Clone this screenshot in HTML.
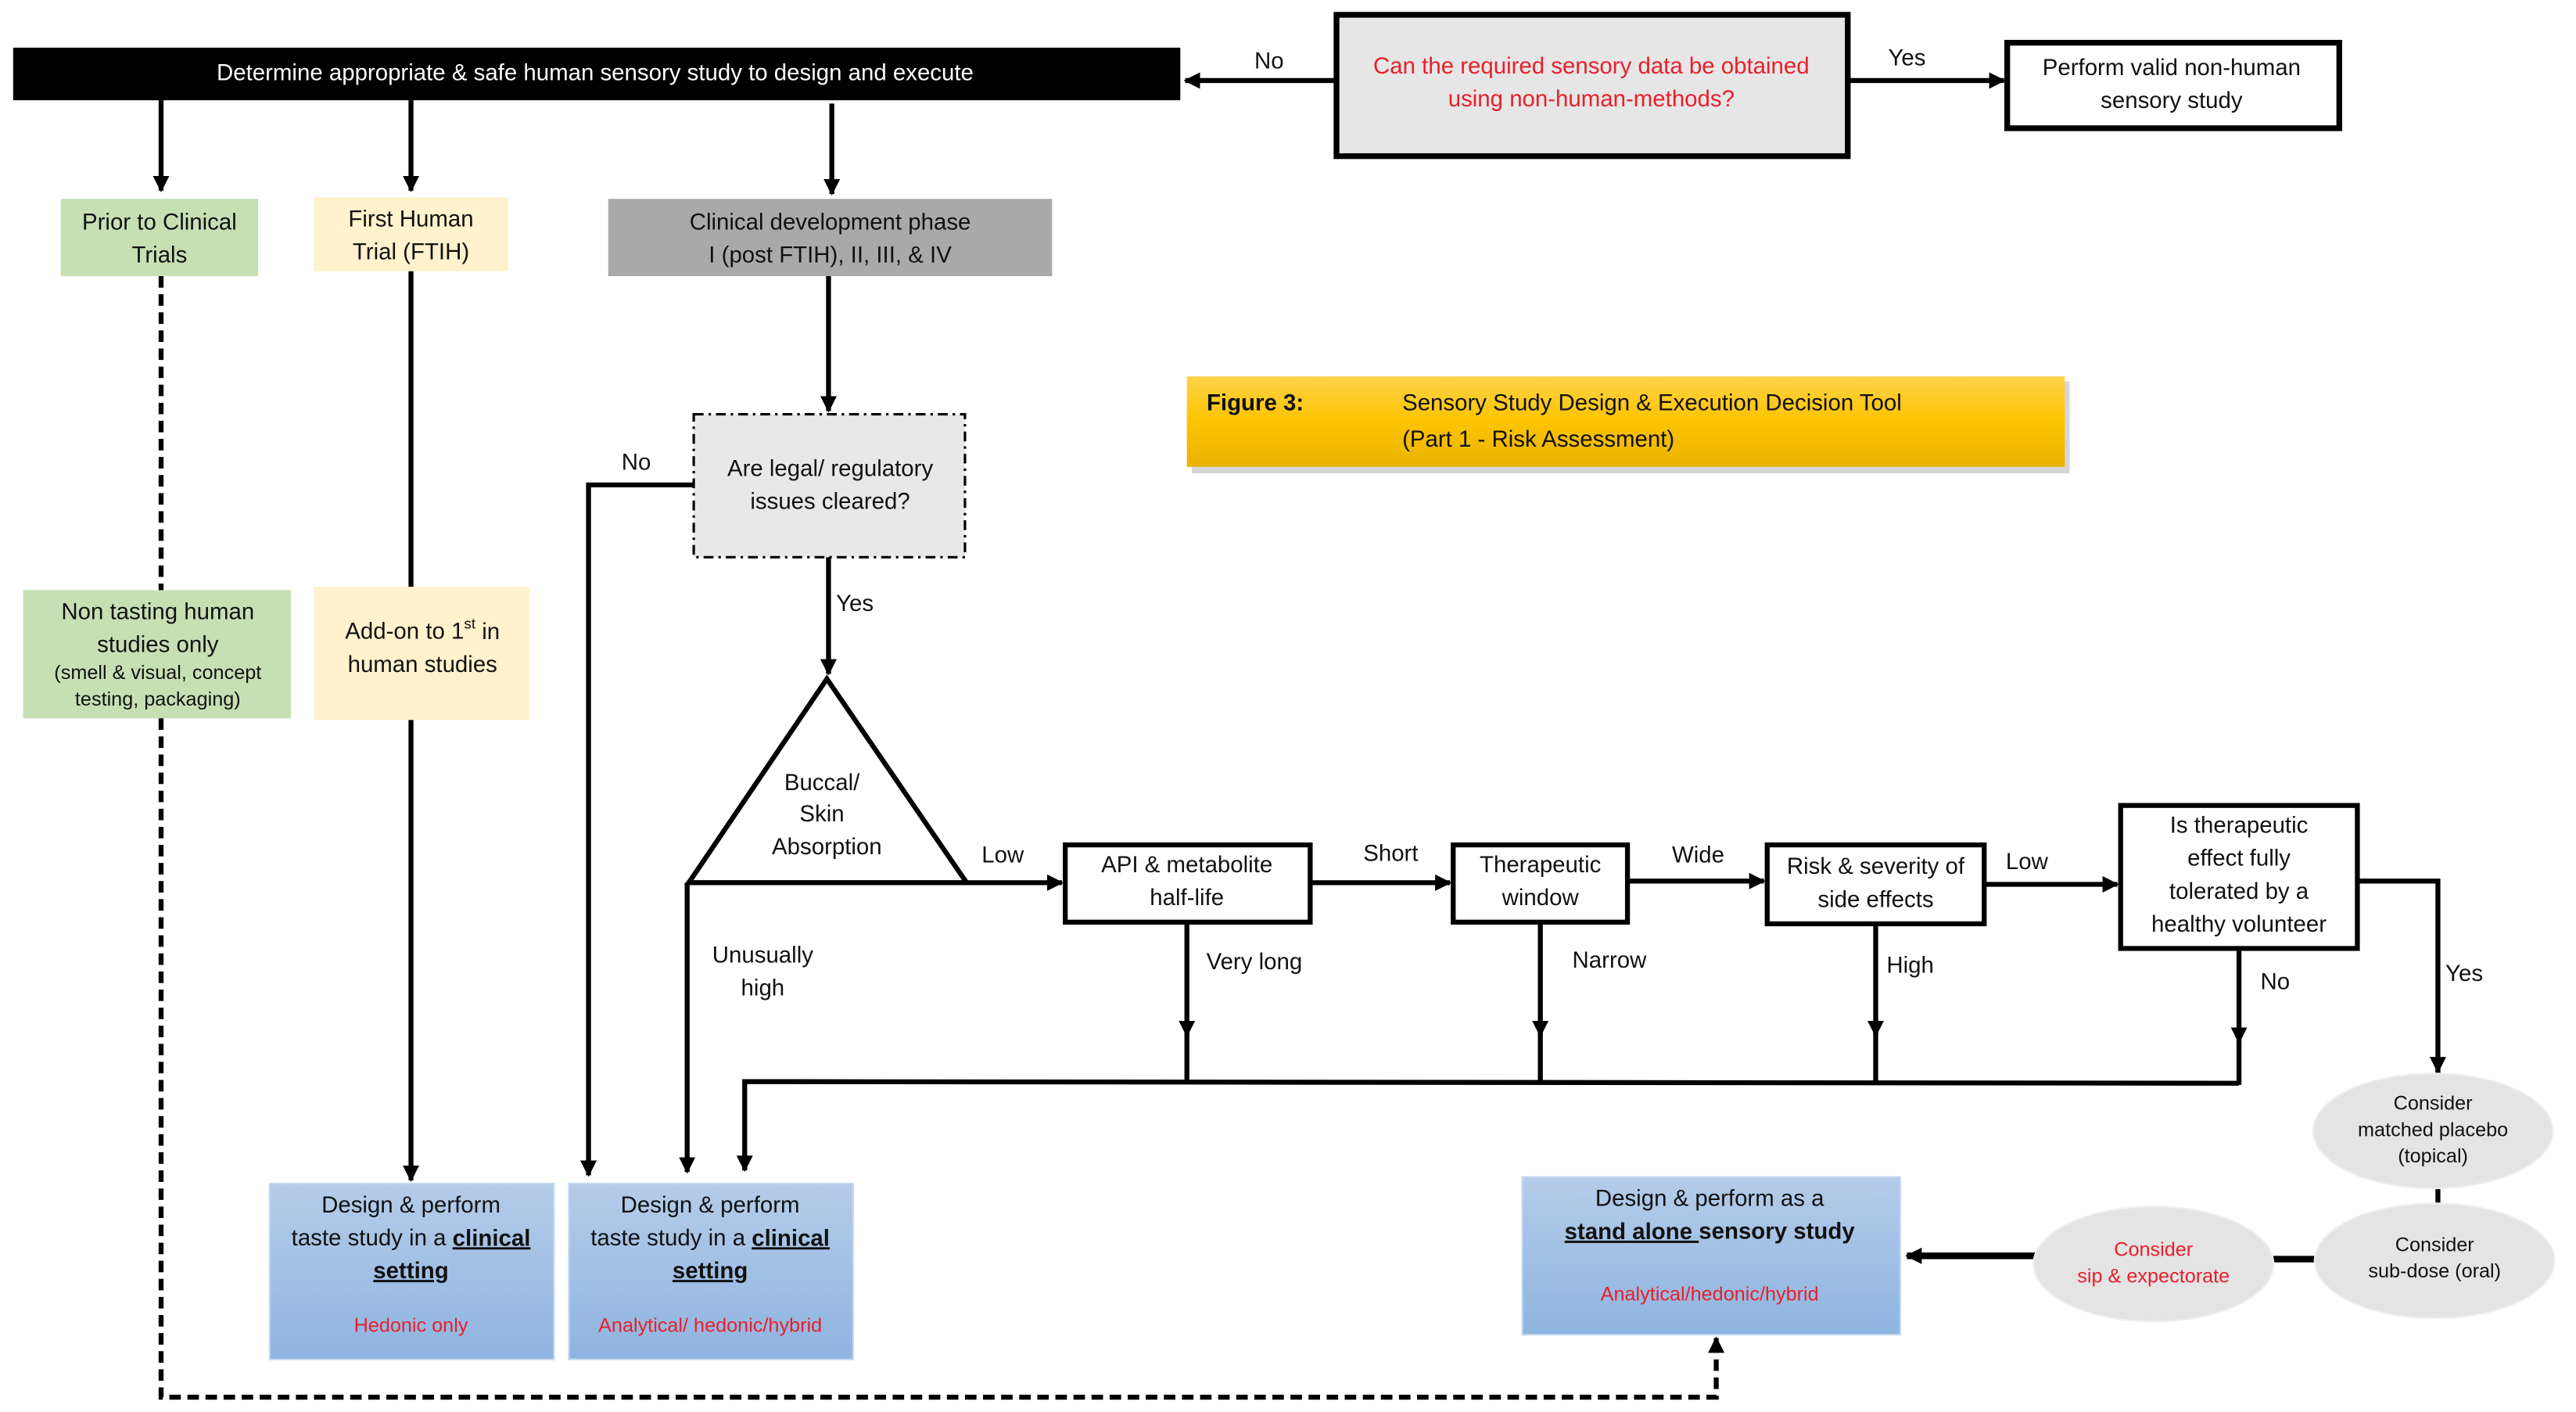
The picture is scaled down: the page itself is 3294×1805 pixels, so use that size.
<!DOCTYPE html>
<html><head><meta charset="utf-8"><style>
html,body{margin:0;padding:0;background:#fff}
svg{display:block}
text{font-family:"Liberation Sans",sans-serif;font-size:14px;fill:#111;text-anchor:middle;dominant-baseline:middle}
.s{font-size:12px}
.r{fill:#e8202a}
</style></head><body>
<svg width="3294" height="1805" viewBox="0 0 1567 859" preserveAspectRatio="none" xmlns="http://www.w3.org/2000/svg">
<defs>
<marker id="a" markerWidth="10" markerHeight="10" refX="9" refY="5" orient="auto" markerUnits="userSpaceOnUse"><path d="M0,0 L10,5 L0,10 z" fill="#000"/></marker>
<linearGradient id="blue" x1="0" y1="0" x2="0" y2="1"><stop offset="0" stop-color="#b4cce9"/><stop offset="1" stop-color="#8fb4e0"/></linearGradient>
<linearGradient id="gold" x1="0" y1="0" x2="0" y2="1"><stop offset="0" stop-color="#ffd24a"/><stop offset="0.5" stop-color="#fcc400"/><stop offset="1" stop-color="#e9b300"/></linearGradient>
</defs>
<g stroke="#000" stroke-width="3" fill="none">
<rect x="8" y="29" width="710" height="32" fill="#000" stroke="none"/>
<line x1="812" y1="49" x2="721" y2="49" marker-end="url(#a)"/>
<rect x="813" y="9" width="311" height="86" fill="#e6e6e6" stroke-width="3.5"/>
<line x1="1125" y1="49" x2="1219" y2="49" marker-end="url(#a)"/>
<rect x="1221" y="26" width="202" height="52" fill="#fff" stroke-width="3.5"/>
<line x1="98" y1="61" x2="98" y2="116" marker-end="url(#a)"/>
<line x1="250" y1="61" x2="250" y2="116" marker-end="url(#a)"/>
<line x1="506" y1="63" x2="506" y2="118" marker-end="url(#a)"/>
<rect x="37" y="121" width="120" height="47" fill="#c6e0b4" stroke="none"/>
<rect x="191" y="120" width="118" height="45" fill="#fff2cc" stroke="none"/>
<rect x="370" y="121" width="270" height="47" fill="#a9a9a9" stroke="none"/>
<line x1="504" y1="168" x2="504" y2="250" marker-end="url(#a)"/>
<rect x="422" y="252" width="165" height="87" fill="#e8e8e8" stroke-width="1.5" stroke-dasharray="6,3,1.5,3"/>
<polyline points="422,295 358,295 358,715" marker-end="url(#a)"/>
<line x1="504" y1="339" x2="504" y2="410" marker-end="url(#a)"/>
<polygon points="503,413 419,537 588,537" fill="#fff"/>
<line x1="418" y1="537" x2="646" y2="537" marker-end="url(#a)"/>
<line x1="418" y1="537" x2="418" y2="713" marker-end="url(#a)"/>
<rect x="648" y="514" width="149" height="47" fill="#fff"/>
<line x1="797" y1="537" x2="882" y2="537" marker-end="url(#a)"/>
<rect x="884" y="514" width="106" height="47" fill="#fff"/>
<line x1="990" y1="536" x2="1073" y2="536" marker-end="url(#a)"/>
<rect x="1075" y="514" width="132" height="48" fill="#fff"/>
<line x1="1207" y1="538" x2="1288" y2="538" marker-end="url(#a)"/>
<rect x="1290" y="490" width="144" height="87" fill="#fff"/>
<polyline points="1434,536 1483,536 1483,652" marker-end="url(#a)"/>
<line x1="1483" y1="650" x2="1483" y2="672"/>
<line x1="722" y1="561" x2="722" y2="630" marker-end="url(#a)"/><line x1="722" y1="628" x2="722" y2="658"/>
<line x1="937" y1="561" x2="937" y2="630" marker-end="url(#a)"/><line x1="937" y1="628" x2="937" y2="658"/>
<line x1="1141" y1="562" x2="1141" y2="630" marker-end="url(#a)"/><line x1="1141" y1="628" x2="1141" y2="658"/>
<line x1="1362" y1="577" x2="1362" y2="634" marker-end="url(#a)"/><line x1="1362" y1="632" x2="1362" y2="660"/>
<polyline points="1362,659 453,658 453,712" marker-end="url(#a)"/>
<rect x="14" y="359" width="163" height="78" fill="#c6e0b4" stroke="none"/>
<rect x="191" y="357" width="131" height="81" fill="#fff2cc" stroke="none"/>
<line x1="250" y1="165" x2="250" y2="357"/>
<line x1="250" y1="438" x2="250" y2="718" marker-end="url(#a)"/>
<line x1="98" y1="168" x2="98" y2="359" stroke-dasharray="7,4"/>
<polyline points="98,437 98,850 1044,850 1044,815" stroke-dasharray="7,4"/>
<line x1="1044" y1="822" x2="1044" y2="814" marker-end="url(#a)"/>
<rect x="164" y="720" width="173" height="107" fill="url(#blue)" stroke="#c5d9f1" stroke-width="1"/>
<rect x="346" y="720" width="173" height="107" fill="url(#blue)" stroke="#c5d9f1" stroke-width="1"/>
<rect x="926" y="716" width="230" height="96" fill="url(#blue)" stroke="#c5d9f1" stroke-width="1"/>
<line x1="1483" y1="722" x2="1483" y2="734"/>
<line x1="1382" y1="766" x2="1409" y2="766" stroke-width="4"/>
<line x1="1238" y1="764" x2="1160" y2="764" stroke-width="4" marker-end="url(#a)"/>
<ellipse cx="1480" cy="688" rx="73" ry="35" fill="#e4e4e4" stroke="#f0f0f0" stroke-width="1"/>
<ellipse cx="1481" cy="767" rx="73" ry="35" fill="#e4e4e4" stroke="#f0f0f0" stroke-width="1"/>
<ellipse cx="1310" cy="769" rx="73" ry="35" fill="#e4e4e4" stroke="#f0f0f0" stroke-width="1"/>
<rect x="725" y="232" width="534" height="56" fill="#bbb" stroke="none" opacity="0.6"/>
<rect x="722" y="229" width="534" height="55" fill="url(#gold)" stroke="none"/>
</g>
<text x="362" y="45" style="fill:#fff">Determine appropriate &amp; safe human sensory study to design and execute</text>
<text x="772" y="38">No</text>
<text x="1160" y="36">Yes</text>
<text x="968" y="41" class="r">Can the required sensory data be obtained</text>
<text x="968" y="61" class="r">using non-human-methods?</text>
<text x="1321" y="42">Perform valid non-human</text>
<text x="1321" y="62">sensory study</text>
<text x="97" y="136">Prior to Clinical</text><text x="97" y="156">Trials</text>
<text x="250" y="134">First Human</text><text x="250" y="154">Trial (FTIH)</text>
<text x="505" y="136">Clinical development phase</text><text x="505" y="156">I (post FTIH), II, III, &amp; IV</text>
<text x="505" y="286">Are legal/ regulatory</text><text x="505" y="306">issues cleared?</text>
<text x="387" y="282">No</text><text x="520" y="368">Yes</text>
<text x="500" y="477">Buccal/</text><text x="500" y="496">Skin</text><text x="503" y="516">Absorption</text>
<text x="610" y="521">Low</text>
<text x="464" y="582">Unusually</text><text x="464" y="602">high</text>
<text x="722" y="527">API &amp; metabolite</text><text x="722" y="547">half-life</text>
<text x="846" y="520">Short</text>
<text x="937" y="527">Therapeutic</text><text x="937" y="547">window</text>
<text x="1033" y="521">Wide</text>
<text x="1141" y="528">Risk &amp; severity of</text><text x="1141" y="548">side effects</text>
<text x="1233" y="525">Low</text>
<text x="1362" y="503">Is therapeutic</text><text x="1362" y="523">effect fully</text><text x="1362" y="543">tolerated by a</text><text x="1362" y="563">healthy volunteer</text>
<text x="763" y="586">Very long</text><text x="979" y="585">Narrow</text><text x="1162" y="588">High</text><text x="1384" y="598">No</text><text x="1499" y="593">Yes</text>
<text x="96" y="373">Non tasting human</text><text x="96" y="393">studies only</text>
<text x="96" y="410" class="s">(smell &amp; visual, concept</text><text x="96" y="426" class="s">testing, packaging)</text>
<text x="257" y="385">Add-on to 1<tspan font-size="9" dy="-5">st</tspan><tspan dy="5"> in</tspan></text><text x="257" y="405">human studies</text>
<text x="734" y="246" style="font-weight:bold;text-anchor:start">Figure 3:</text>
<text x="853" y="246" style="text-anchor:start">Sensory Study Design &amp; Execution Decision Tool</text>
<text x="853" y="268" style="text-anchor:start">(Part 1 - Risk Assessment)</text>
<text x="250" y="734">Design &amp; perform</text>
<text x="250" y="754">taste study in a <tspan font-weight="bold" text-decoration="underline">clinical</tspan></text>
<text x="250" y="774" font-weight="bold" text-decoration="underline">setting</text>
<text x="250" y="807" class="s r">Hedonic only</text>
<text x="432" y="734">Design &amp; perform</text>
<text x="432" y="754">taste study in a <tspan font-weight="bold" text-decoration="underline">clinical</tspan></text>
<text x="432" y="774" font-weight="bold" text-decoration="underline">setting</text>
<text x="432" y="807" class="s r">Analytical/ hedonic/hybrid</text>
<text x="1040" y="730">Design &amp; perform as a</text>
<text x="1040" y="750" font-weight="bold"><tspan text-decoration="underline">stand alone </tspan>sensory study</text>
<text x="1040" y="788" class="s r">Analytical/hedonic/hybrid</text>
<text x="1480" y="672" class="s">Consider</text><text x="1480" y="688" class="s">matched placebo</text><text x="1480" y="704" class="s">(topical)</text>
<text x="1481" y="758" class="s">Consider</text><text x="1481" y="774" class="s">sub-dose (oral)</text>
<text x="1310" y="761" class="s r">Consider</text><text x="1310" y="777" class="s r">sip &amp; expectorate</text>
</svg>
</body></html>
